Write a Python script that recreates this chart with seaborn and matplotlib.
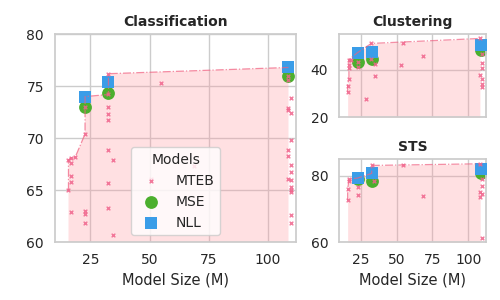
import numpy as np
import pandas as pd
import matplotlib
matplotlib.use("Agg")
import matplotlib.pyplot as plt
import seaborn as sns

sns.set_theme(style="whitegrid")

# --- dati ---
# Classification
cls_mteb_size = [15.7, 15.7, 16.7, 16.7, 16.7, 16.7, 16.7, 18.6, 22.7, 22.7, 22.7, 22.7, 22.7,
                 32.6, 32.6, 32.6, 32.6, 32.6, 32.6, 32.6, 32.6, 34.7, 34.7, 50.6, 54.7, 68.6,
                 108.6, 108.6, 109.6, 108.6, 108.6, 109.6, 109.6, 108.6, 108.6, 109.6, 109.6,
                 108.6, 109.6, 109.6, 109.6, 109.6, 109.6, 109.6]
cls_mteb_score = [67.9, 65.0, 68.1, 67.6, 66.4, 65.8, 62.9, 68.2, 73.0, 70.4, 63.0, 62.7, 61.8,
                  76.2, 74.2, 73.0, 72.3, 71.7, 68.9, 65.7, 63.3, 67.9, 60.7, 66.1, 75.3, 67.3,
                  76.0, 75.6, 73.9, 72.9, 72.7, 72.4, 69.8, 68.9, 68.3, 67.4, 66.7,
                  66.1, 66.0, 65.3, 65.0, 64.8, 62.6, 61.8]
cls_mse = [73.0, 74.3, 76.0]
cls_nll = [74.0, 75.4, 76.8]

# Clustering
clu_mteb_size = [15.8, 15.8, 16.7, 16.7, 16.7, 16.7, 18.3, 22.9, 22.9, 28.9, 32.3, 32.3, 34.6,
                 34.6, 52.7, 54.5, 68.4, 108.1, 109.3, 109.3, 109.3, 108.2, 109.3, 109.3, 109.3]
clu_mteb_score = [30.5, 33.3, 36.3, 40.6, 42.2, 44.3, 44.1, 43.4, 41.0, 27.7, 51.1, 44.7, 42.5,
                  37.5, 42.2, 51.1, 46.0, 53.2, 46.6, 43.0, 40.6, 37.6, 36.0, 34.1, 32.8]
clu_mse = [43.4, 44.7, 48.5]
clu_nll = [47.2, 47.7, 50.3]

# STS
sts_mteb_size = [15.8, 15.8, 16.7, 16.7, 22.7, 22.7, 32.6, 33.9, 54.5, 68.4, 108.3, 109.3,
                 109.3, 108.2, 109.3, 108.2, 109.3]
sts_mteb_score = [72.6, 76.0, 78.3, 79.0, 76.6, 74.3, 83.1, 78.3, 83.1, 73.8, 83.6, 79.0,
                  77.0, 75.1, 74.5, 73.7, 61.1]
sts_mse = [78.9, 78.3, 80.8]
sts_nll = [79.3, 80.7, 82.0]

# dimensioni dei nostri modelli (M)
our_size = [22.7, 32.6, 108.7]

MTEB_COL = "#f0648c"
MSE_COL = "#4caf2e"
NLL_COL = "#3a9de8"


def pareto_front(xs, ys):
    pts = sorted(zip(xs, ys))
    fx, fy, best = [], [], -np.inf
    for x, y in pts:
        if y > best:
            fx.append(x)
            fy.append(y)
            best = y
    return fx, fy


def draw_task(ax, title, mteb_x, mteb_y, mse, nll, ylim, yticks):
    all_x = list(mteb_x) + our_size + our_size
    all_y = list(mteb_y) + list(mse) + list(nll)
    fx, fy = pareto_front(all_x, all_y)
    ax.fill_between(fx, fy, ylim[0] - 50, color="#ff9aa2", alpha=0.3, lw=0, zorder=1)
    ax.plot(fx, fy, ls="-.", lw=0.9, color="#f06080", alpha=0.7, zorder=4)

    sns.scatterplot(x=our_size, y=mse, ax=ax, color=MSE_COL, marker="o", s=85,
                    linewidth=0, label="MSE", zorder=2)
    sns.scatterplot(x=our_size, y=nll, ax=ax, color=NLL_COL, marker="s", s=85,
                    linewidth=0, label="NLL", zorder=3)
    sns.scatterplot(x=mteb_x, y=mteb_y, ax=ax, color=MTEB_COL, marker="x", s=7,
                    linewidth=1, alpha=0.85, label="MTEB", zorder=5)

    ax.set_title(title, fontsize=10, fontweight="bold")
    ax.set_xlim(10, 112)
    ax.set_ylim(*ylim)
    ax.set_xticks([25, 50, 75, 100])
    ax.set_yticks(yticks)
    ax.tick_params(labelsize=10, pad=2)
    ax.set_axisbelow(True)


fig = plt.figure(figsize=(5, 3), dpi=100)
gs = fig.add_gridspec(2, 2, width_ratios=[241, 146], wspace=0.222, hspace=0.506,
                      left=0.11, right=0.971, bottom=0.193, top=0.886)
ax_cls = fig.add_subplot(gs[:, 0])
ax_clu = fig.add_subplot(gs[0, 1])
ax_sts = fig.add_subplot(gs[1, 1], sharex=ax_clu)

draw_task(ax_cls, "Classification", cls_mteb_size, cls_mteb_score, cls_mse, cls_nll,
          (60, 80), [60, 65, 70, 75, 80])
draw_task(ax_clu, "Clustering", clu_mteb_size, clu_mteb_score, clu_mse, clu_nll,
          (20, 55), [20, 40])
draw_task(ax_sts, "STS", sts_mteb_size, sts_mteb_score, sts_mse, sts_nll,
          (60, 85), [60, 80])

ax_cls.set_xlabel("Model Size (M)", fontsize=10.5)
ax_sts.set_xlabel("Model Size (M)", fontsize=10.5)
ax_clu.tick_params(labelbottom=False)

# legenda solo nel pannello grande, ordine MTEB, MSE, NLL
handles, labels = ax_cls.get_legend_handles_labels()
order = [labels.index(l) for l in ["MTEB", "MSE", "NLL"]]
ax_cls.legend([handles[i] for i in order], [labels[i] for i in order], title="Models",
              loc="lower center", fontsize=10, title_fontsize=10, framealpha=0.8)
ax_clu.get_legend().remove()
ax_sts.get_legend().remove()

plt.savefig("out.png", dpi=100)
